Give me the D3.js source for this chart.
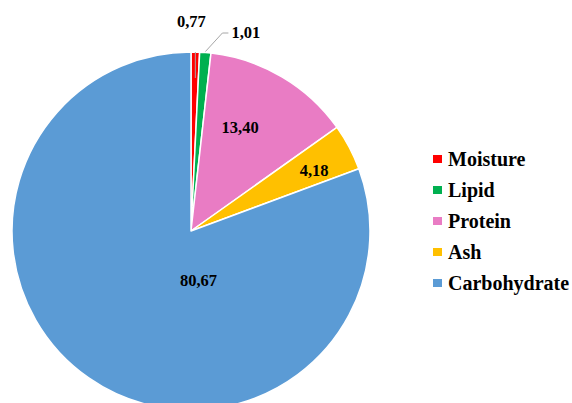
<!DOCTYPE html>
<html><head><meta charset="utf-8">
<script src="https://cdn.jsdelivr.net/npm/d3@7"></script>
<style>body{margin:0;background:#fff}svg{display:block}</style>
</head><body>
<svg id="c" width="572" height="403"></svg>
<script>
const categories = ["Moisture","Lipid","Protein","Ash","Carbohydrate"];
const values = [0.77, 1.01, 13.40, 4.18, 80.67];
const valueLabels = ["0,77","1,01","13,40","4,18","80,67"];
const colors = ["#FF0000","#00B050","#E97CC4","#FFC000","#5B9BD5"];

const svg = d3.select("#c");
const cx = 191, cy = 231, R = 179;
const g = svg.append("g").attr("transform",`translate(${cx},${cy})`);
const pie = d3.pie().sort(null).value(d=>d)(values);
const arc = d3.arc().innerRadius(0).outerRadius(R);
g.selectAll("path").data(pie).enter().append("path")
  .attr("d",arc).attr("fill",(d,i)=>colors[i])
  .attr("stroke","#fff").attr("stroke-width",1.5).attr("stroke-linejoin","round");

const font = "'Liberation Serif','Times New Roman',serif";
const mid = d => (d.startAngle+d.endAngle)/2;
const pt = (a,r) => [r*Math.sin(a), -r*Math.cos(a)];

const lead = g.append("g").attr("stroke","#A6A6A6").attr("stroke-width",1).attr("fill","none");
{
  const d = pie[0], a = mid(d);
  const p0 = pt(a,R);
  lead.append("path").attr("d",`M${p0[0]},${p0[1]}V${-R+26}`);
  g.append("text").attr("x",p0[0]-4).attr("y",-R-25).attr("text-anchor","middle")
    .attr("font-family",font).attr("font-weight","bold").attr("font-size",16.5).text(valueLabels[0]);
}
{
  const d = pie[1], a = mid(d);
  const p0 = pt(a,R+1);
  const p1 = [p0[0]+17, -R-19];
  lead.append("path").attr("d",`M${p0[0]},${p0[1]}L${p1[0]},${p1[1]}H${p1[0]+6}`);
  g.append("text").attr("x",p1[0]+9).attr("y",p1[1]+5).attr("text-anchor","start")
    .attr("font-family",font).attr("font-weight","bold").attr("font-size",16.5).text(valueLabels[1]);
}
const inside = [[2,0.64,-0.09],[3,0.765,0.032]];
inside.forEach(([i,f,da])=>{
  const p = pt(mid(pie[i])+da, R*f);
  g.append("text").attr("x",p[0]).attr("y",p[1]+5.5).attr("text-anchor","middle")
    .attr("font-family",font).attr("font-weight","bold").attr("font-size",16.5).text(valueLabels[i]);
});
{
  const p = pt(Math.PI-0.152, R*0.277);
  g.append("text").attr("x",p[0]).attr("y",p[1]+5.5).attr("text-anchor","middle")
    .attr("font-family",font).attr("font-weight","bold").attr("font-size",16.5).text(valueLabels[4]);
}

const ly = d3.scalePoint().domain(categories).range([159,283]);
const lg = svg.append("g");
categories.forEach((c,i)=>{
  lg.append("rect").attr("x",433).attr("y",ly(c)-4).attr("width",9).attr("height",8).attr("fill",colors[i]);
  lg.append("text").attr("x",448).attr("y",ly(c)+7).attr("font-family",font).attr("font-weight","bold")
    .attr("font-size",20).text(c);
});
</script>
</body></html>
